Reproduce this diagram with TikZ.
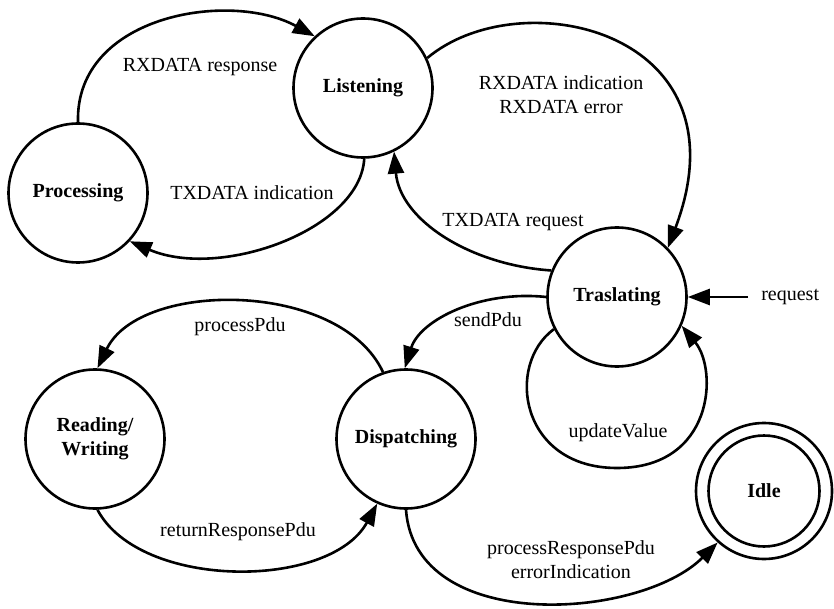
\documentclass[tikz,border=0pt]{standalone}
\usepackage{fontspec}
\setmainfont{Liberation Serif}
\usetikzlibrary{arrows.meta}
\begin{document}
\begin{tikzpicture}[x=1pt,y=-1pt,
  font=\fontsize{20}{24}\selectfont,
  line width=2.6pt,
  state/.style={circle,draw,minimum size=139pt,inner sep=0pt,align=center,
    font=\fontsize{20}{24}\selectfont\bfseries},
  trans/.style={-{Triangle[length=22pt,width=16pt]}},
  lbl/.style={align=center,inner sep=0pt}]
\useasboundingbox (0,0) rectangle (834,609);

% states
\node[state] (Listening)  at (363,88)  {Listening};
\node[state] (Processing) at (78,193)  {Processing};
\node[state] (Traslating) at (617,297) {Traslating};
\node[state] (Reading)    at (95,439)  {Reading/\\Writing};
\node[state] (Dispatching) at (406,439) {Dispatching};
\node[state,minimum size=136pt] (Idle) at (764,491) {Idle};
\draw (Idle.center) circle (55.5);

% transition labels
\node[lbl] (lRxResp)   at (200,67)  {RXDATA response};
\node[lbl] (lTxInd)    at (252,193) {TXDATA indication};
\node[lbl] (lRxInd)    at (561,95)  {RXDATA indication\\RXDATA error};
\node[lbl] (lTxReq)    at (513,222) {TXDATA request};
\node[lbl] (lSend)     at (488,320) {sendPdu};
\node[lbl] (lProc)     at (240,327) {processPdu};
\node[lbl] (lRet)      at (238,532) {returnResponsePdu};
\node[lbl] (lUpd)      at (618,433) {updateValue};
\node[lbl] (lPResp)    at (571,560) {processResponsePdu\\errorIndication};
\node[lbl,anchor=west] (lReq) at (760,297) {request};
\coordinate (reqStart) at (748,297);

% transitions
\draw[trans] (Processing.90) .. controls (75,15) and (230,-10) .. (Listening.133);
\draw[trans] (Listening.-89) .. controls (360,230) and (220,280) .. (Processing.-43);
\draw[trans] (Listening.25) .. controls (520,-20) and (750,30) .. (Traslating.44);
\draw[trans] (Traslating.158) .. controls (470,265) and (400,220) .. (Listening.-64);
\draw[trans] (reqStart) -- (Traslating.east);
\draw[trans] (Traslating.180) .. controls (480,290) and (420,320) .. (Dispatching.91);
\draw[trans] (Dispatching.109) .. controls (340,280) and (140,280) .. (Reading.88);
\draw[trans] (Reading.-88) .. controls (140,590) and (330,590) .. (Dispatching.-114);
\draw[trans] (Dispatching.-90) .. controls (415,635) and (640,620) .. (Idle.-132);
\draw[trans] (Traslating.-153) .. controls (505,365) and (520,468) .. (617,468)
  .. controls (714,468) and (718,370) .. (Traslating.-24);
\end{tikzpicture}
\end{document}
